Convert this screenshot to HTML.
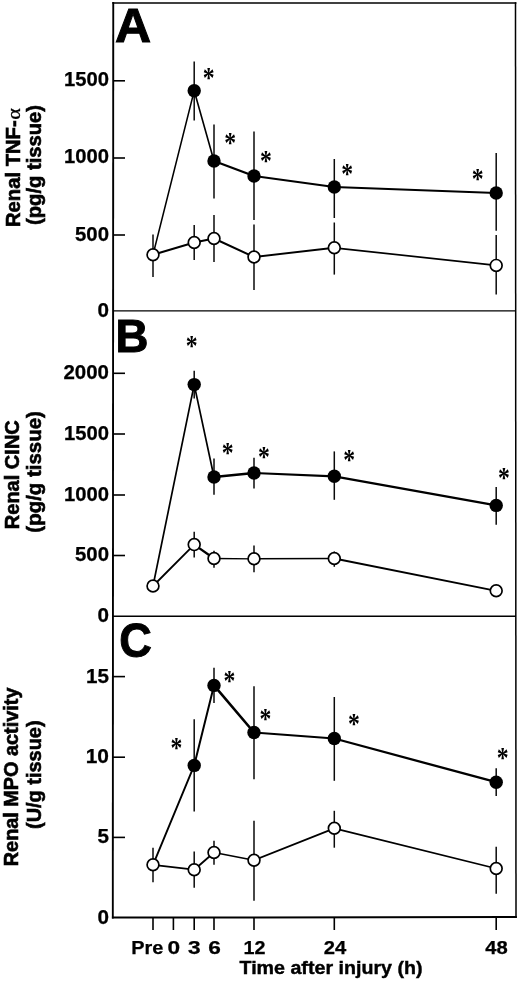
<!DOCTYPE html>
<html><head><meta charset="utf-8"><title>Figure</title>
<style>
html,body{margin:0;padding:0;background:#fff;}
svg{display:block;}
text{font-family:"Liberation Sans",Arial,Helvetica,sans-serif;font-weight:bold;fill:#000;}
.st{font-family:"Liberation Serif","DejaVu Serif",serif;font-weight:bold;font-size:100px;}
.tk{font-size:18px;stroke:#000;stroke-width:0.25px;}
.ty{font-size:19.5px;}
.yl{font-size:19.5px;text-anchor:middle;stroke:#000;stroke-width:0.6px;}
.pl{font-size:100px;stroke:#000;stroke-width:2.1px;}
</style></head><body>
<svg width="520" height="982" viewBox="0 0 520 982">
<rect width="520" height="982" fill="#fff"/>

<g stroke="#000" fill="none" stroke-width="1.8">
<line x1="113.25" y1="2.1" x2="112.8" y2="918.6" stroke-width="1.9"/>
<line x1="112.3" y1="3" x2="516.4" y2="3" stroke-width="1.7"/>
<line x1="515.5" y1="2.2" x2="516" y2="917.9" stroke-width="1.5"/>
<line x1="111.9" y1="917.6" x2="516.8" y2="917" stroke-width="2"/>
<line x1="113" y1="310.9" x2="516" y2="310.9" stroke-width="1.3"/>
<line x1="113" y1="616.2" x2="516" y2="616.2" stroke-width="1.6"/>
</g>
<g stroke="#000" stroke-width="1.6">
<line x1="113" y1="80.8" x2="125" y2="80.8"/>
<line x1="113" y1="158" x2="125" y2="158"/>
<line x1="113" y1="235" x2="125" y2="235"/>
<line x1="113" y1="373.3" x2="125" y2="373.3"/>
<line x1="113" y1="434" x2="125" y2="434"/>
<line x1="113" y1="495" x2="125" y2="495"/>
<line x1="113" y1="555.5" x2="125" y2="555.5"/>
<line x1="113" y1="676.6" x2="125" y2="676.6"/>
<line x1="113" y1="757.2" x2="125" y2="757.2"/>
<line x1="113" y1="837.4" x2="125" y2="837.4"/>
<line x1="153" y1="917" x2="153" y2="930"/>
<line x1="194.2" y1="917" x2="194.2" y2="930"/>
<line x1="214" y1="917" x2="214" y2="930"/>
<line x1="254" y1="917" x2="254" y2="930"/>
<line x1="334.3" y1="917" x2="334.3" y2="930"/>
<line x1="496.2" y1="917" x2="496.2" y2="930"/>
<line x1="173.4" y1="917" x2="173.4" y2="930"/>
</g>
<text class="tk ty" x="64" y="85.7" textLength="45" lengthAdjust="spacingAndGlyphs">1500</text>
<text class="tk ty" x="64" y="163.3" textLength="45" lengthAdjust="spacingAndGlyphs">1000</text>
<text class="tk ty" x="75" y="240.5" textLength="34" lengthAdjust="spacingAndGlyphs">500</text>
<text class="tk ty" x="97.5" y="317" textLength="11.5" lengthAdjust="spacingAndGlyphs">0</text>
<text class="tk ty" x="63.5" y="378.9" textLength="45.5" lengthAdjust="spacingAndGlyphs">2000</text>
<text class="tk ty" x="64" y="439.6" textLength="45" lengthAdjust="spacingAndGlyphs">1500</text>
<text class="tk ty" x="64" y="500.6" textLength="45" lengthAdjust="spacingAndGlyphs">1000</text>
<text class="tk ty" x="75" y="561.1" textLength="34" lengthAdjust="spacingAndGlyphs">500</text>
<text class="tk ty" x="97.5" y="621.6" textLength="11.5" lengthAdjust="spacingAndGlyphs">0</text>
<text class="tk ty" x="86" y="682.6" textLength="23" lengthAdjust="spacingAndGlyphs">15</text>
<text class="tk ty" x="85.7" y="763.1" textLength="23.3" lengthAdjust="spacingAndGlyphs">10</text>
<text class="tk ty" x="97.5" y="843.4" textLength="11.5" lengthAdjust="spacingAndGlyphs">5</text>
<text class="tk ty" x="97.5" y="923.8" textLength="11.5" lengthAdjust="spacingAndGlyphs">0</text>
<text class="tk" x="131.2" y="953.7" textLength="32" lengthAdjust="spacingAndGlyphs">Pre</text>
<text class="tk" x="167.39999999999998" y="953.7" textLength="12.6" lengthAdjust="spacingAndGlyphs">0</text>
<text class="tk" x="188.1" y="953.7" textLength="12.6" lengthAdjust="spacingAndGlyphs">3</text>
<text class="tk" x="208.29999999999998" y="953.7" textLength="12.6" lengthAdjust="spacingAndGlyphs">6</text>
<text class="tk" x="243.6" y="953.7" textLength="22" lengthAdjust="spacingAndGlyphs">12</text>
<text class="tk" x="323.75" y="953.7" textLength="22.5" lengthAdjust="spacingAndGlyphs">24</text>
<text class="tk" x="485.25" y="953.7" textLength="22.5" lengthAdjust="spacingAndGlyphs">48</text>
<text x="239.5" y="973.8" style="font-size:18px" stroke="#000" stroke-width="0.4" textLength="183" lengthAdjust="spacingAndGlyphs">Time after injury (h)</text>
<text class="pl" transform="translate(115,42.2) scale(0.5,0.474)" x="0" y="0">A</text>
<text class="pl" transform="translate(115.6,352) scale(0.456,0.47)" x="0" y="0">B</text>
<text class="pl" transform="translate(119.3,657.2) scale(0.451,0.473)" x="0" y="0">C</text>
<text class="yl" style="text-anchor:start" transform="translate(20.3,227) rotate(-90)"><tspan textLength="106.7" lengthAdjust="spacingAndGlyphs">Renal TNF-</tspan><tspan dx="0.5" font-family="Liberation Serif, DejaVu Serif, serif" font-weight="normal" stroke-width="0.3" font-size="18.5" textLength="11.5" lengthAdjust="spacingAndGlyphs">α</tspan></text>
<text class="yl" transform="translate(41,165) rotate(-90)" textLength="120" lengthAdjust="spacingAndGlyphs">(pg/g tissue)</text>
<text class="yl" transform="translate(18.8,474.7) rotate(-90)" textLength="109" lengthAdjust="spacingAndGlyphs">Renal CINC</text>
<text class="yl" transform="translate(40.8,471.9) rotate(-90)" textLength="121.5" lengthAdjust="spacingAndGlyphs">(pg/g tissue)</text>
<text class="yl" transform="translate(17.9,776.9) rotate(-90)" textLength="178.7" lengthAdjust="spacingAndGlyphs">Renal MPO activity</text>
<text class="yl" transform="translate(41.1,774.7) rotate(-90)" textLength="108.6" lengthAdjust="spacingAndGlyphs">(U/g tissue)</text>
<g stroke="#0a0a0a" stroke-width="1.5">
<line x1="153" y1="234.5" x2="153" y2="277"/>
<line x1="194.2" y1="61.5" x2="194.2" y2="120.6"/>
<line x1="194.2" y1="225" x2="194.2" y2="260"/>
<line x1="214" y1="124.6" x2="214" y2="198.5"/>
<line x1="214" y1="215" x2="214" y2="262"/>
<line x1="254" y1="131.4" x2="254" y2="220"/>
<line x1="254" y1="224.6" x2="254" y2="290"/>
<line x1="334.3" y1="159" x2="334.3" y2="218"/>
<line x1="334.3" y1="222.5" x2="334.3" y2="274.6"/>
<line x1="496.2" y1="153" x2="496.2" y2="230.8"/>
<line x1="496.2" y1="235" x2="496.2" y2="294.5"/>
</g>
<g stroke="#000" stroke-linecap="round">
<line x1="153" y1="254.8" x2="194.2" y2="90.8" stroke-width="1.5"/>
<line x1="153" y1="254.8" x2="194.2" y2="242.5" stroke-width="2.0"/>
<line x1="194.2" y1="90.8" x2="214" y2="161" stroke-width="1.6"/>
<line x1="194.2" y1="242.5" x2="214" y2="238.5" stroke-width="2.0"/>
<line x1="214" y1="161" x2="254" y2="176" stroke-width="2.4"/>
<line x1="214" y1="238.5" x2="254" y2="257" stroke-width="2.0"/>
<line x1="254" y1="176" x2="334.3" y2="187" stroke-width="2.2"/>
<line x1="254" y1="257" x2="334.3" y2="247.8" stroke-width="1.9"/>
<line x1="334.3" y1="187" x2="496.2" y2="193" stroke-width="2.0"/>
<line x1="334.3" y1="247.8" x2="496.2" y2="265.4" stroke-width="1.7"/>
</g>
<circle cx="194.2" cy="90.8" r="6.7" fill="#000"/>
<circle cx="214" cy="161" r="6.7" fill="#000"/>
<circle cx="254" cy="176" r="6.7" fill="#000"/>
<circle cx="334.3" cy="187" r="6.7" fill="#000"/>
<circle cx="496.2" cy="193" r="6.7" fill="#000"/>
<circle cx="153" cy="254.8" r="5.9" fill="#fff" stroke="#000" stroke-width="1.7"/>
<circle cx="194.2" cy="242.5" r="5.9" fill="#fff" stroke="#000" stroke-width="1.7"/>
<circle cx="214" cy="238.5" r="5.9" fill="#fff" stroke="#000" stroke-width="1.7"/>
<circle cx="254" cy="257" r="5.9" fill="#fff" stroke="#000" stroke-width="1.7"/>
<circle cx="334.3" cy="247.8" r="5.9" fill="#fff" stroke="#000" stroke-width="1.7"/>
<circle cx="496.2" cy="265.4" r="5.9" fill="#fff" stroke="#000" stroke-width="1.7"/>
<text class="st" transform="translate(208.5,73.1) scale(0.237,0.286)" x="-24.5" y="47">*</text>
<text class="st" transform="translate(230,138.1) scale(0.237,0.286)" x="-24.5" y="47">*</text>
<text class="st" transform="translate(265.7,156.1) scale(0.237,0.286)" x="-24.5" y="47">*</text>
<text class="st" transform="translate(347,169.1) scale(0.237,0.286)" x="-24.5" y="47">*</text>
<text class="st" transform="translate(477.5,174.5) scale(0.237,0.286)" x="-24.5" y="47">*</text>
<g stroke="#0a0a0a" stroke-width="1.5">
<line x1="194.2" y1="370.8" x2="194.2" y2="398.5"/>
<line x1="194.2" y1="531.7" x2="194.2" y2="557.5"/>
<line x1="214" y1="458.5" x2="214" y2="494.8"/>
<line x1="214" y1="550.8" x2="214" y2="567.7"/>
<line x1="254" y1="457.8" x2="254" y2="488.6"/>
<line x1="254" y1="545.5" x2="254" y2="572.3"/>
<line x1="334.3" y1="451.4" x2="334.3" y2="499.8"/>
<line x1="334.3" y1="551.5" x2="334.3" y2="566.8"/>
<line x1="496.2" y1="487" x2="496.2" y2="524.8"/>
</g>
<g stroke="#000" stroke-linecap="round">
<line x1="153" y1="586" x2="194.2" y2="384.6" stroke-width="1.7"/>
<line x1="153" y1="586" x2="194.2" y2="544.6" stroke-width="1.8"/>
<line x1="194.2" y1="384.6" x2="214" y2="477" stroke-width="1.7"/>
<line x1="194.2" y1="544.6" x2="214" y2="558.5" stroke-width="2.3"/>
<line x1="214" y1="477" x2="254" y2="473" stroke-width="2.6"/>
<line x1="214" y1="558.5" x2="254" y2="558.8" stroke-width="1.3"/>
<line x1="254" y1="473" x2="334.3" y2="476.3" stroke-width="2.2"/>
<line x1="254" y1="558.8" x2="334.3" y2="558.5" stroke-width="1.5"/>
<line x1="334.3" y1="476.3" x2="496.2" y2="505.4" stroke-width="2.2"/>
<line x1="334.3" y1="558.5" x2="496.2" y2="590.8" stroke-width="1.8"/>
</g>
<circle cx="194.2" cy="384.6" r="6.7" fill="#000"/>
<circle cx="214" cy="477" r="6.7" fill="#000"/>
<circle cx="254" cy="473" r="6.7" fill="#000"/>
<circle cx="334.3" cy="476.3" r="6.7" fill="#000"/>
<circle cx="496.2" cy="505.4" r="6.7" fill="#000"/>
<circle cx="153" cy="586" r="5.9" fill="#fff" stroke="#000" stroke-width="1.7"/>
<circle cx="194.2" cy="544.6" r="5.9" fill="#fff" stroke="#000" stroke-width="1.7"/>
<circle cx="214" cy="558.5" r="5.9" fill="#fff" stroke="#000" stroke-width="1.7"/>
<circle cx="254" cy="558.8" r="5.9" fill="#fff" stroke="#000" stroke-width="1.7"/>
<circle cx="334.3" cy="558.5" r="5.9" fill="#fff" stroke="#000" stroke-width="1.7"/>
<circle cx="496.2" cy="590.8" r="5.9" fill="#fff" stroke="#000" stroke-width="1.7"/>
<text class="st" transform="translate(191.5,341.6) scale(0.237,0.286)" x="-24.5" y="47">*</text>
<text class="st" transform="translate(227.5,448.1) scale(0.237,0.286)" x="-24.5" y="47">*</text>
<text class="st" transform="translate(263.8,452.1) scale(0.237,0.286)" x="-24.5" y="47">*</text>
<text class="st" transform="translate(349,455.1) scale(0.237,0.286)" x="-24.5" y="47">*</text>
<text class="st" transform="translate(503.8,473.6) scale(0.237,0.286)" x="-24.5" y="47">*</text>
<g stroke="#0a0a0a" stroke-width="1.5">
<line x1="153" y1="847.8" x2="153" y2="882.3"/>
<line x1="194.2" y1="719.2" x2="194.2" y2="811.5"/>
<line x1="194.2" y1="851.5" x2="194.2" y2="887.8"/>
<line x1="214" y1="667.8" x2="214" y2="702.9"/>
<line x1="214" y1="840.8" x2="214" y2="864.8"/>
<line x1="254" y1="686.3" x2="254" y2="779.2"/>
<line x1="254" y1="820.8" x2="254" y2="900.8"/>
<line x1="334.3" y1="697" x2="334.3" y2="780.8"/>
<line x1="334.3" y1="810.8" x2="334.3" y2="847.7"/>
<line x1="496.2" y1="768.3" x2="496.2" y2="796"/>
<line x1="496.2" y1="846.8" x2="496.2" y2="893.8"/>
</g>
<g stroke="#000" stroke-linecap="round">
<line x1="153" y1="864.8" x2="194.2" y2="765.4" stroke-width="1.9"/>
<line x1="153" y1="864.8" x2="194.2" y2="869.7" stroke-width="1.8"/>
<line x1="194.2" y1="765.4" x2="214" y2="685.4" stroke-width="2.0"/>
<line x1="194.2" y1="869.7" x2="214" y2="852.5" stroke-width="1.8"/>
<line x1="214" y1="685.4" x2="254" y2="732.5" stroke-width="2.6"/>
<line x1="214" y1="852.5" x2="254" y2="860.2" stroke-width="1.6"/>
<line x1="254" y1="732.5" x2="334.3" y2="738.5" stroke-width="1.8"/>
<line x1="254" y1="860.2" x2="334.3" y2="828.3" stroke-width="1.8"/>
<line x1="334.3" y1="738.5" x2="496.2" y2="782.2" stroke-width="2.3"/>
<line x1="334.3" y1="828.3" x2="496.2" y2="868.5" stroke-width="1.8"/>
</g>
<circle cx="194.2" cy="765.4" r="6.7" fill="#000"/>
<circle cx="214" cy="685.4" r="6.7" fill="#000"/>
<circle cx="254" cy="732.5" r="6.7" fill="#000"/>
<circle cx="334.3" cy="738.5" r="6.7" fill="#000"/>
<circle cx="496.2" cy="782.2" r="6.7" fill="#000"/>
<circle cx="153" cy="864.8" r="5.9" fill="#fff" stroke="#000" stroke-width="1.7"/>
<circle cx="194.2" cy="869.7" r="5.9" fill="#fff" stroke="#000" stroke-width="1.7"/>
<circle cx="214" cy="852.5" r="5.9" fill="#fff" stroke="#000" stroke-width="1.7"/>
<circle cx="254" cy="860.2" r="5.9" fill="#fff" stroke="#000" stroke-width="1.7"/>
<circle cx="334.3" cy="828.3" r="5.9" fill="#fff" stroke="#000" stroke-width="1.7"/>
<circle cx="496.2" cy="868.5" r="5.9" fill="#fff" stroke="#000" stroke-width="1.7"/>
<text class="st" transform="translate(176.2,743.9) scale(0.237,0.286)" x="-24.5" y="47">*</text>
<text class="st" transform="translate(229.4,676.1) scale(0.237,0.286)" x="-24.5" y="47">*</text>
<text class="st" transform="translate(265.4,714.3000000000001) scale(0.237,0.286)" x="-24.5" y="47">*</text>
<text class="st" transform="translate(353.8,719.9) scale(0.237,0.286)" x="-24.5" y="47">*</text>
<text class="st" transform="translate(502.5,753.6) scale(0.237,0.286)" x="-24.5" y="47">*</text>
</svg></body></html>
